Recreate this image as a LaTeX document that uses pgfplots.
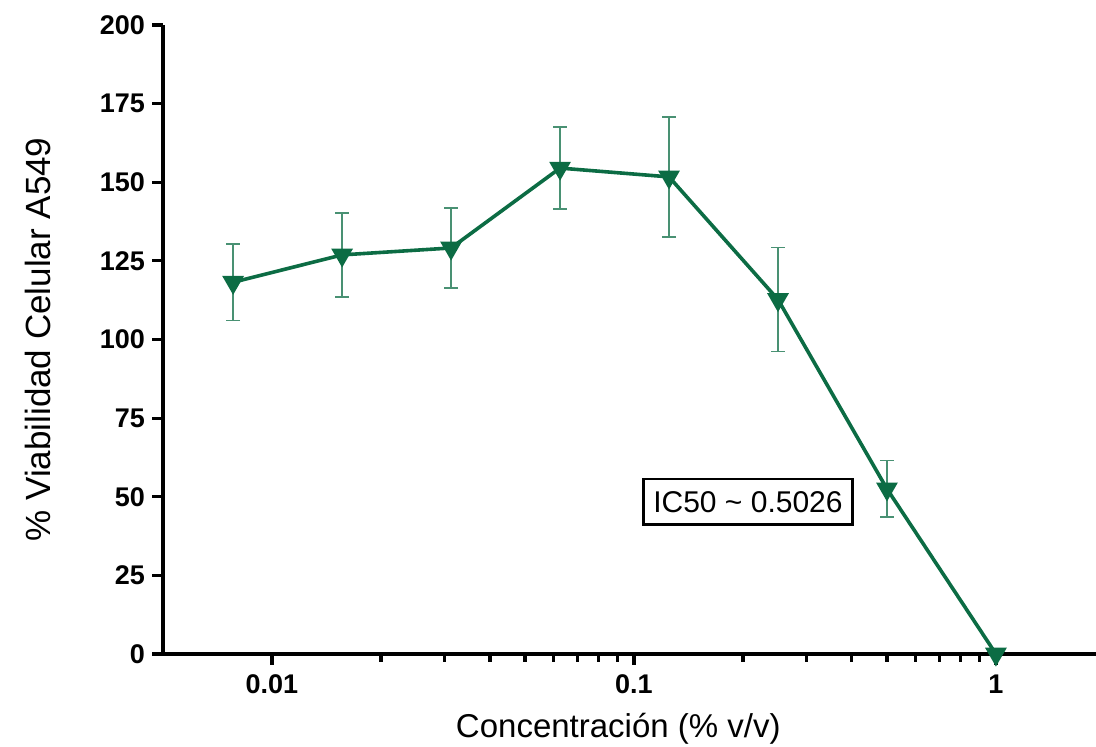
\documentclass[border=0pt]{standalone}
\usepackage{fontspec}
\setmainfont{Liberation Sans}
\usepackage{pgfplots}
\pgfplotsset{compat=1.18}
\definecolor{verde}{RGB}{12,108,68}

\begin{document}
\begin{tikzpicture}
\begin{axis}[
    scale only axis,
    width=466.5pt, height=314.5pt,
    xmode=log,
    xmin=0.005, xmax=1.89,
    ymin=0, ymax=200,
    axis lines=left,
    axis line style={-, line width=1.6pt},
    xtick={0.01,0.1,1},
    xticklabels={0.01,0.1,1},
    ytick={0,25,...,200},
    tick align=outside,
    major tick length=5.5pt,
    minor tick length=4pt,
    every tick/.style={black, line width=1.6pt},
    /pgf/number format/assume math mode=true,
    tick label style={font=\bfseries\fontsize{13.5}{15}\selectfont},
    xticklabel style={yshift=-1.5pt},
    xlabel={Concentración (\% v/v)},
    ylabel={\% Viabilidad Celular A549},
    label style={font=\fontsize{16.5}{18}\selectfont},
    xlabel style={at={(axis description cs:0.488,-0.132)}, anchor=base},
    ylabel style={at={(axis description cs:-0.134,0.5)}, anchor=center, rotate=0,
        font=\fontsize{17.5}{19}\selectfont},
    clip=false,
]
\addplot[color=verde, line width=1.8pt, mark=triangle*, mark size=4.5pt,
    mark options={rotate=180, solid},
    error bars/.cd, y dir=both, y explicit,
    error bar style={line width=0.8pt, color=verde!75},
    error mark options={line width=0.8pt, mark size=3.5pt, color=verde!75, rotate=90}]
coordinates {
    (0.0078125,118.2) +- (0,12.2)
    (0.015625,126.9)  +- (0,13.4)
    (0.03125,129.1)   +- (0,12.8)
    (0.0625,154.5)    +- (0,13.0)
    (0.125,151.7)     +- (0,19.1)
    (0.25,112.7)      +- (0,16.5)
    (0.5,52.5)        +- (0,9.0)
    (1,0)             +- (0,0)
};
\node[draw=black, line width=1.3pt, fill=white, inner xsep=5pt, inner ysep=6pt,
      font=\fontsize{15}{17}\selectfont]
    at (axis cs:0.2065,48.4) {IC50 \char`\~{} 0.5026};
\coordinate (o) at (rel axis cs:0,0);
\end{axis}
\pgfresetboundingbox
\path (o) ++(-81.5pt,-46.5pt) rectangle ++(548pt,373.5pt);
\end{tikzpicture}
\end{document}
